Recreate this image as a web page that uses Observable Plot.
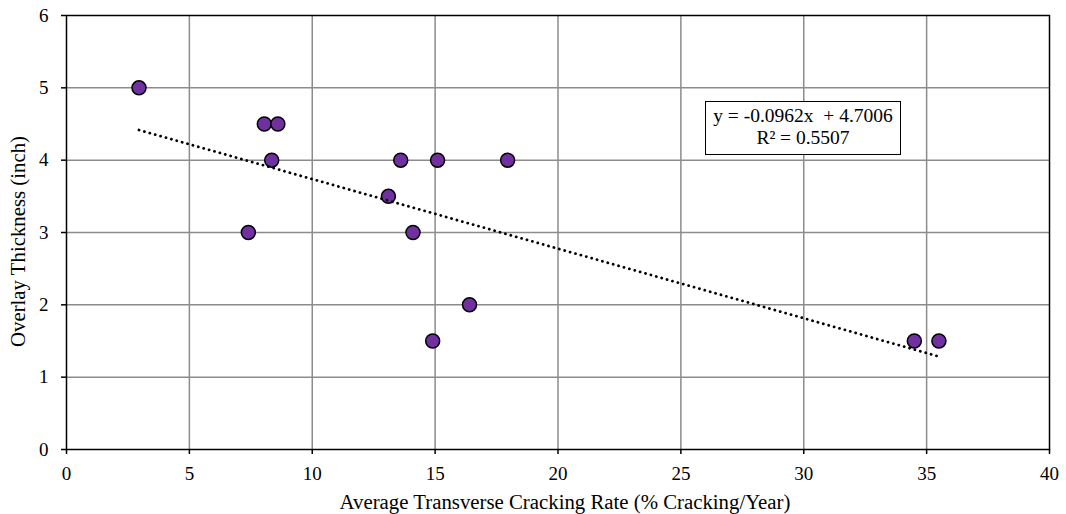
<!DOCTYPE html>
<html>
<head>
<meta charset="utf-8">
<script src="https://cdn.jsdelivr.net/npm/d3@7"></script>
<script src="https://cdn.jsdelivr.net/npm/@observablehq/plot@0.6"></script>
<style>
  html, body { margin: 0; padding: 0; background: #fff; }
  #wrap { position: relative; width: 1066px; height: 514px; }
  #wrap svg text { font-family: "Liberation Serif", "Times New Roman", serif; }
  #eq {
    position: absolute; left: 705px; top: 101px; width: 196px; height: 54px;
    border: 1px solid #000; background: #fff; box-sizing: border-box;
    font-family: "Liberation Serif", "Times New Roman", serif; font-size: 19.5px;
    text-align: center; line-height: 22px; padding-top: 3px;
  }
</style>
</head>
<body>
<div id="wrap"></div>
<script>
// Average transverse cracking rate (% cracking/year) per section
const crackingRate = [2.95, 8.05, 8.6, 8.35, 7.4, 13.6, 15.1, 17.95, 13.1, 14.1, 16.4, 14.9, 34.5, 35.5];
// Overlay thickness (inch) per section
const thickness = [5, 4.5, 4.5, 4, 3, 4, 4, 4, 3.5, 3, 2, 1.5, 1.5, 1.5];

// Linear trendline reported on the chart
const slope = -0.0962;
const intercept = 4.7006;
const r2 = 0.5507;

const xTicks = [0, 5, 10, 15, 20, 25, 30, 35, 40];
const yTicks = [0, 1, 2, 3, 4, 5, 6];
const xTitle = "Average Transverse Cracking Rate (% Cracking/Year)";
const yTitle = "Overlay Thickness (inch)";

const points = crackingRate.map((x, i) => ({x, y: thickness[i]}));
const xExtent = d3.extent(crackingRate);
const trend = xExtent.map(x => ({x, y: slope * x + intercept}));

const serif = "'Liberation Serif', 'Times New Roman', serif";

const chart = Plot.plot({
  width: 1066,
  height: 514,
  marginLeft: 66,
  marginRight: 17,
  marginTop: 15,
  marginBottom: 65,
  style: {fontFamily: serif, fontSize: "19px", color: "#000", background: "#fff"},
  x: {domain: [0, 40]},
  y: {domain: [0, 6]},
  marks: [
    Plot.gridX(xTicks.slice(1, -1), {stroke: "#8c8c8c", strokeOpacity: 1, strokeWidth: 1.5}),
    Plot.gridY(yTicks.slice(1, -1), {stroke: "#8c8c8c", strokeOpacity: 1, strokeWidth: 1.5}),
    Plot.frame({stroke: "#000", strokeWidth: 1.5}),
    // tick marks and tick labels
    Plot.axisX(xTicks, {tickSize: 5, tickPadding: 12, tickFormat: d3.format("d"), fontSize: 19, fontFamily: serif, label: null, strokeWidth: 1.5}),
    Plot.axisY(yTicks, {tickSize: 5, tickPadding: 13, tickFormat: d3.format("d"), fontSize: 19, fontFamily: serif, label: null, strokeWidth: 1.5}),
    // axis titles
    Plot.text([xTitle], {text: d => d, frameAnchor: "bottom", lineAnchor: "middle", textAnchor: "middle", dx: 7, dy: 53, fontSize: 20.8, fontFamily: serif, fill: "#000"}),
    Plot.text([yTitle], {text: d => d, frameAnchor: "left", lineAnchor: "middle", textAnchor: "middle", rotate: -90, dx: -48, dy: 9, fontSize: 20.8, fontFamily: serif, fill: "#000"}),
    Plot.dot(points, {x: "x", y: "y", r: 7, fill: "#7030A0", stroke: "#000", strokeWidth: 1.5}),
    Plot.line(trend, {x: "x", y: "y", stroke: "#000", strokeWidth: 2.8, strokeDasharray: "0.1,5.5", strokeLinecap: "round"})
  ]
});

const wrap = document.getElementById("wrap");
wrap.appendChild(chart);

const eq = document.createElement("div");
eq.id = "eq";
eq.innerHTML = `y = ${slope.toFixed(4)}x&nbsp; + ${intercept.toFixed(4)}<br>R² = ${r2.toFixed(4)}`;
wrap.appendChild(eq);
</script>
</body>
</html>
